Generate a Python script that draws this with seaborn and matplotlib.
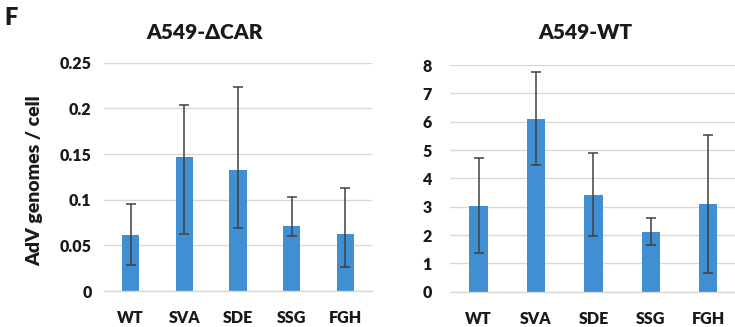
import pandas as pd
import matplotlib.pyplot as plt
import seaborn as sns

viruses = ["WT", "SVA", "SDE", "SSG", "FGH"]

# A549-dCAR panel
car_mean = [0.061, 0.147, 0.133, 0.071, 0.062]
car_lo = [0.029, 0.063, 0.069, 0.060, 0.026]
car_hi = [0.095, 0.204, 0.223, 0.103, 0.113]

# A549-WT panel
wt_mean = [3.02, 6.08, 3.42, 2.12, 3.10]
wt_lo = [1.35, 4.47, 1.97, 1.65, 0.67]
wt_hi = [4.72, 7.75, 4.91, 2.59, 5.53]

car_ticks = [0, 0.05, 0.1, 0.15, 0.2, 0.25]
car_tick_labels = ["0", "0.05", "0.1", "0.15", "0.2", "0.25"]
wt_ticks = [0, 1, 2, 3, 4, 5, 6, 7, 8]

sns.set_theme(style="white")
plt.rcParams["font.family"] = ["Lato", "DejaVu Sans"]
plt.rcParams["font.weight"] = "bold"

bar_color = "#3F8FD2"
grid_color = "#D9D9D9"
text_color = "#1a1a1a"

fig = plt.figure(figsize=(7.35, 3.27), dpi=100)
ax1 = fig.add_axes([0.1415, 0.110, 0.3646, 0.698])
ax2 = fig.add_axes([0.6122, 0.108, 0.3905, 0.693])


def draw_panel(ax, mean, lo, hi, ylim, ticks, labels, ypad):
    df = pd.DataFrame({"virus": viruses, "value": mean})
    sns.barplot(data=df, x="virus", y="value", color=bar_color, saturation=1,
                width=0.32, errorbar=None, ax=ax, zorder=2)
    for p in ax.patches:
        p.set_edgecolor("none")
    yerr = [[m - l for m, l in zip(mean, lo)], [h - m for m, h in zip(mean, hi)]]
    ax.errorbar(range(len(viruses)), mean, yerr=yerr, fmt="none",
                ecolor="#404040", elinewidth=1.1, capsize=3.5, capthick=1.1, zorder=3)
    ax.set_ylim(*ylim)
    ax.set_xlim(-0.5, len(viruses) - 0.5)
    ax.set_yticks(ticks)
    ax.set_yticklabels(labels)
    ax.yaxis.grid(True, color=grid_color, linewidth=1)
    ax.set_axisbelow(True)
    for s in ["top", "right", "left"]:
        ax.spines[s].set_visible(False)
    ax.spines["bottom"].set_color(grid_color)
    ax.spines["bottom"].set_linewidth(1)
    ax.tick_params(axis="y", length=0, pad=ypad, labelsize=11.5, labelcolor=text_color)
    ax.tick_params(axis="x", length=0, pad=14, labelsize=11.5, labelcolor=text_color)
    for t in ax.get_xticklabels() + ax.get_yticklabels():
        t.set_fontweight("heavy")
    ax.set_xlabel("")
    ax.set_ylabel("")


draw_panel(ax1, car_mean, car_lo, car_hi, (0, 0.25), car_ticks, car_tick_labels, 9)
draw_panel(ax2, wt_mean, wt_lo, wt_hi, (0, 8), wt_ticks, [str(t) for t in wt_ticks], 13)

fig.text(205 / 735, 0.902, "A549-ΔCAR", ha="center", va="center",
         fontsize=15, fontweight="heavy", color=text_color)
fig.text(585 / 735, 0.902, "A549-WT", ha="center", va="center",
         fontsize=15, fontweight="heavy", color=text_color)
fig.text(35 / 735, 0.446, "AdV genomes / cell", rotation=90, ha="center", va="center",
         fontsize=14, fontweight="heavy", color=text_color)
fig.text(0.006, 0.98, "F", ha="left", va="top", fontsize=17, fontweight="heavy",
         color=text_color)

fig.savefig("out.png", dpi=100)
